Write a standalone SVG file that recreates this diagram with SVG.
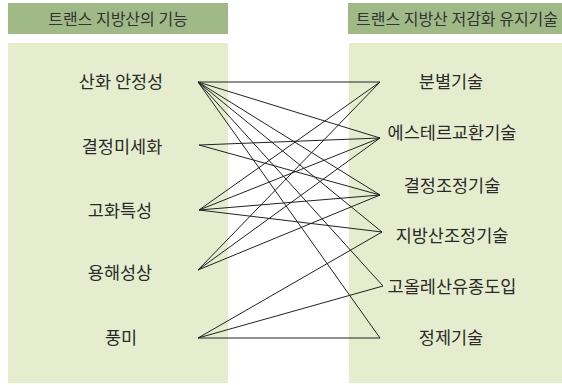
<svg xmlns="http://www.w3.org/2000/svg" width="562" height="385" viewBox="0 0 562 385">
<style>
.hdr{fill:#9fba87}
.panel{fill:#e6edce}
.ht{font-family:"Noto Sans CJK KR","Noto Sans",sans-serif;font-size:16px;fill:#333;text-anchor:middle}
.lbl{font-family:"Noto Sans CJK KR","Noto Sans",sans-serif;font-size:17.5px;fill:#2a2a2a;text-anchor:middle}
.c line{stroke:#222;stroke-width:1;fill:none}
</style>
<rect width="562" height="385" fill="#fff"/>
<g id="left-column">
<rect class="hdr" x="8" y="3" width="220" height="31"/>
<text class="ht" x="118" y="24.5">트랜스 지방산의 기능</text>
<rect class="panel" x="8" y="43" width="220" height="340"/>
</g>
<g id="right-column">
<rect class="hdr" x="348" y="3" width="214" height="31"/>
<text class="ht" x="457" y="24.5">트랜스 지방산 저감화 유지기술</text>
<rect class="panel" x="349" y="43" width="213" height="340"/>
</g>
<g id="n-sanhwa"><text class="lbl" x="121" y="88">산화 안정성</text></g>
<g id="n-gyeoljeong"><text class="lbl" x="122" y="153">결정미세화</text></g>
<g id="n-gohwa"><text class="lbl" x="120" y="217">고화특성</text></g>
<g id="n-yonghae"><text class="lbl" x="120" y="279">용해성상</text></g>
<g id="n-pungmi"><text class="lbl" x="121" y="344">풍미</text></g>
<g id="n-bunbyeol"><text class="lbl" x="451" y="88">분별기술</text></g>
<g id="n-ester"><text class="lbl" x="452" y="139">에스테르교환기술</text></g>
<g id="n-gyeoljojeong"><text class="lbl" x="452" y="192">결정조정기술</text></g>
<g id="n-jibangsan"><text class="lbl" x="452" y="242">지방산조정기술</text></g>
<g id="n-goolle"><text class="lbl" x="452" y="293">고올레산유종도입</text></g>
<g id="n-jeongje"><text class="lbl" x="451" y="344">정제기술</text></g>
<g id="connectors" class="c">
<line x1="198" y1="82" x2="380" y2="82"/>
<line x1="198" y1="82" x2="380" y2="138"/>
<line x1="198" y1="82" x2="380" y2="195"/>
<line x1="198" y1="82" x2="382" y2="232"/>
<line x1="198" y1="82" x2="383" y2="286"/>
<line x1="198" y1="82" x2="380" y2="338"/>
<line x1="199" y1="145" x2="380" y2="138"/>
<line x1="199" y1="145" x2="380" y2="195"/>
<line x1="199" y1="210" x2="380" y2="82"/>
<line x1="199" y1="210" x2="380" y2="138"/>
<line x1="199" y1="210" x2="380" y2="195"/>
<line x1="199" y1="210" x2="382" y2="232"/>
<line x1="198" y1="270" x2="380" y2="82"/>
<line x1="198" y1="270" x2="380" y2="138"/>
<line x1="198" y1="270" x2="380" y2="195"/>
<line x1="198" y1="338" x2="382" y2="232"/>
<line x1="198" y1="338" x2="383" y2="286"/>
<line x1="198" y1="338" x2="380" y2="338"/>
</g>
</svg>
